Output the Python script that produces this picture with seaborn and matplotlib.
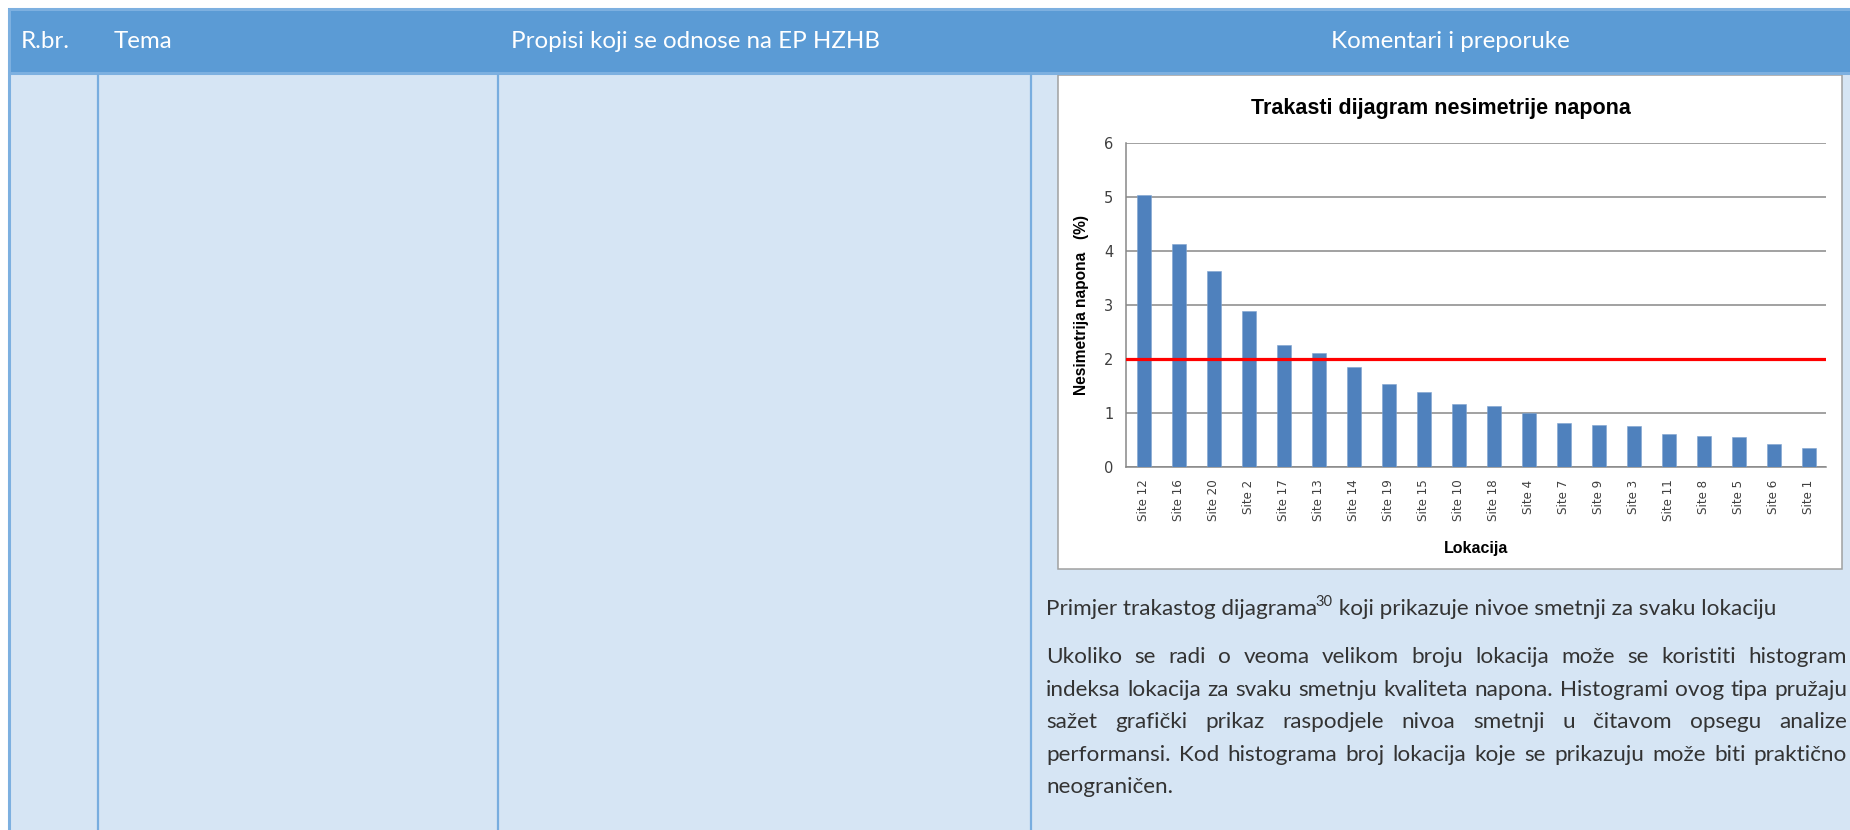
import matplotlib
matplotlib.use("Agg")
import matplotlib.pyplot as plt
import seaborn as sns
from matplotlib import font_manager
from matplotlib.patches import Rectangle

# chart data
sites = ["Site 12", "Site 16", "Site 20", "Site 2", "Site 17", "Site 13", "Site 14",
         "Site 19", "Site 15", "Site 10", "Site 18", "Site 4", "Site 7", "Site 9",
         "Site 3", "Site 11", "Site 8", "Site 5", "Site 6", "Site 1"]
unbalance = [5.03, 4.13, 3.63, 2.89, 2.26, 2.12, 1.86, 1.53, 1.39, 1.16,
             1.13, 1.00, 0.81, 0.77, 0.76, 0.62, 0.58, 0.55, 0.42, 0.36]
limit = 2.0
y_ticks = [0, 1, 2, 3, 4, 5, 6]

chart_title = "Trakasti dijagram nesimetrije napona"
y_label = "Nesimetrija napona   (%)"
x_label = "Lokacija"

# document text
header_labels = ["R.br.", "Tema", "Propisi koji se odnose na EP HZHB", "Komentari i preporuke"]
caption_head = "Primjer trakastog dijagrama"
caption_note = "30"
caption_tail = " koji prikazuje nivoe smetnji za svaku lokaciju"
para_lines = [
    "Ukoliko se radi o veoma velikom broju lokacija može se koristiti histogram",
    "indeksa lokacija za svaku smetnju kvaliteta napona. Histogrami ovog tipa pružaju",
    "sažet grafički prikaz raspodjele nivoa smetnji u čitavom opsegu analize",
    "performansi. Kod histograma broj lokacija koje se prikazuju može biti praktično",
    "neograničen.",
]


def first_family(names):
    avail = {f.name for f in font_manager.fontManager.ttflist}
    for n in names:
        if n in avail:
            return n
    return "DejaVu Sans"


doc_font = first_family(["Lato", "Open Sans", "DejaVu Sans"])
arial = first_family(["Liberation Sans", "DejaVu Sans"])
narrow = first_family(["Liberation Sans Narrow", "Liberation Sans", "DejaVu Sans"])

sns.set_style("white")

W, H = 1850, 830
fig = plt.figure(figsize=(W / 100, H / 100), dpi=100)
fig.patch.set_facecolor("white")

# page / table drawn in pixel coordinates
bg = fig.add_axes([0, 0, 1, 1])
bg.set_xlim(0, W)
bg.set_ylim(H, 0)
bg.axis("off")

head_blue = "#5B9BD5"
body_blue = "#D6E5F4"
line_blue = "#7DB0E0"
bg.add_patch(Rectangle((8, 8), W, 64, fc=head_blue, ec="none"))
bg.add_patch(Rectangle((8, 72), W, H, fc=body_blue, ec="none"))
bg.plot([8, W], [9, 9], color=line_blue, lw=2.2, solid_capstyle="butt")
bg.plot([8.5, 8.5], [8, H], color=line_blue, lw=2.2, solid_capstyle="butt")
bg.plot([8, W], [73.5, 73.5], color=line_blue, lw=2.2, solid_capstyle="butt")
for xs in [98, 498, 1031]:
    bg.plot([xs, xs], [74, H], color="#78ADDF", lw=1.6, solid_capstyle="butt")

hx = [21, 114, 511, 1450]
for i, lab in enumerate(header_labels):
    bg.text(hx[i], 41, lab, color="white", fontsize=17.4, family=doc_font,
            ha="center" if i == 3 else "left", va="center")

# chart frame
bg.add_patch(Rectangle((1058, 75.5), 784, 493.5, fc="white", ec="#A0A0A0", lw=1.1))

# chart axes: plot area x 1126-1826, y 143-467 (pixels from top)
ax = fig.add_axes([1126 / W, (H - 467) / H, 700 / W, 324 / H])
ax.set_facecolor("white")
sns.barplot(x=sites, y=unbalance, color="#4F81BD", width=0.4, saturation=1,
            edgecolor="#7FA3CF", linewidth=0.4, ax=ax, zorder=3)
ax.axhline(limit, color="#FF0000", lw=2.3, zorder=4)
ax.set_ylim(0, 6)
ax.set_xlim(-0.5, len(sites) - 0.5)
ax.set_yticks(y_ticks)
ax.yaxis.grid(True, color="#888888", lw=1.1, zorder=0)
ax.set_axisbelow(True)
for s in ["top", "right"]:
    ax.spines[s].set_visible(False)
for s in ["left", "bottom"]:
    ax.spines[s].set_color("#888888")
    ax.spines[s].set_linewidth(1.1)
ax.tick_params(axis="y", which="major", length=4, width=1.1, color="#888888",
               pad=5, labelsize=10.5, labelcolor="#404040")
ax.set_xticks(range(len(sites)))
ax.set_xticklabels(sites, rotation=90, fontsize=8.6, color="#404040", family="DejaVu Sans")
ax.set_xticks([i - 0.5 for i in range(len(sites) + 1)], minor=True)
ax.tick_params(axis="x", which="major", length=0, pad=9)
ax.tick_params(axis="x", which="minor", length=4, width=1.1, color="#888888")
for t in ax.get_yticklabels():
    t.set_family("DejaVu Sans")

ax.set_ylabel(y_label, fontsize=11.2, fontweight="bold", family=arial, color="black")
ax.yaxis.set_label_coords(-0.063, 0.5)
ax.yaxis.label.set_va("center")
ax.set_xlabel(x_label, fontsize=11.5, fontweight="bold", family=narrow, color="black")
ax.xaxis.set_label_coords(0.5, -0.25)
ax.xaxis.label.set_va("center")
ax.text(0.45, 1.108, chart_title, transform=ax.transAxes, ha="center", va="center",
        fontsize=15.5, fontweight="bold", family=narrow, color="black")

# text under the chart
fig.canvas.draw()
rend = fig.canvas.get_renderer()
txt_kw = dict(color="#333333", fontsize=16.2, family=doc_font, va="baseline")


def width_of(t):
    return t.get_window_extent(rend).width


x0 = 1046
t1 = bg.text(x0, 615, caption_head, **txt_kw)
w1 = width_of(t1)
t2 = bg.text(x0 + w1 - 2, 606, caption_note, color="#333333", fontsize=10.5,
             family=doc_font, va="baseline")
w2 = width_of(t2)
bg.text(x0 + w1 + w2 - 1, 615, caption_tail, **txt_kw)

x1 = 1847
base_y = [663, 696, 728, 761, 793]
for k, line in enumerate(para_lines):
    y = base_y[k]
    if k == len(para_lines) - 1:
        bg.text(x0, y, line, **txt_kw)
        continue
    words = line.split(" ")
    objs = [bg.text(0, y, w, **txt_kw) for w in words]
    widths = [width_of(o) for o in objs]
    gap = (x1 - x0 - sum(widths)) / (len(words) - 1)
    xc = x0
    for o, w in zip(objs, widths):
        o.set_x(xc)
        xc += w + gap

fig.savefig("out.png", dpi=100, facecolor="white")
